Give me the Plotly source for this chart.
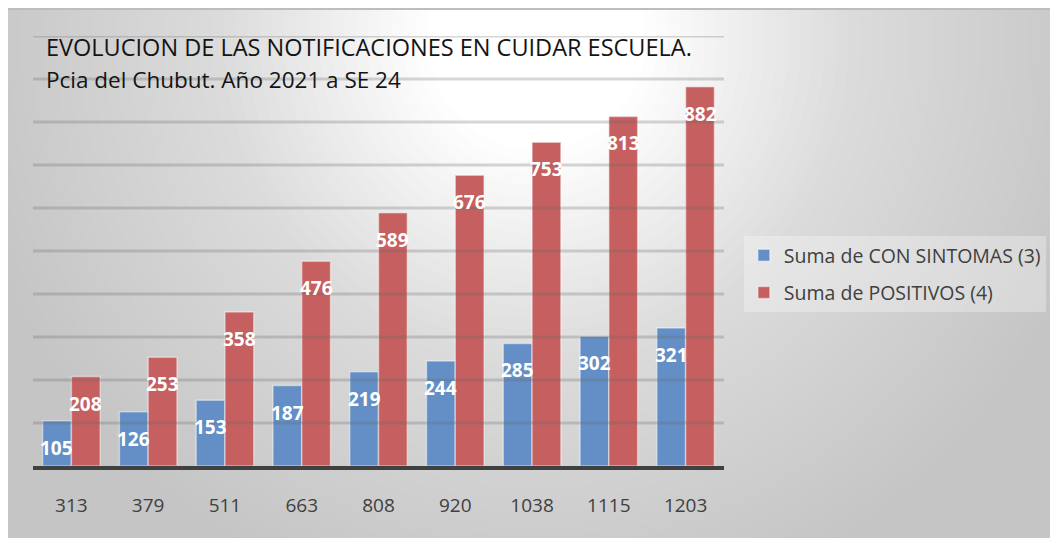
import plotly.graph_objects as go

# datos
categorias = ["313", "379", "511", "663", "808", "920", "1038", "1115", "1203"]
con_sintomas = [105, 126, 153, 187, 219, 244, 285, 302, 321]
positivos = [208, 253, 358, 476, 589, 676, 753, 813, 882]
nombres = ["Suma de CON SINTOMAS (3)", "Suma de POSITIVOS (4)"]
colores = ["#638fc6", "#c65f5f"]
grilla = list(range(100, 1001, 100))

# la pagina deja 8px de margen arriba y a la izquierda
W, H = 1058, 538
M = 8
L, R, T, B = 33, 729, 36, 466
bargap = 0.25


def px(x):
    return (x - L) / (R - L)


def py(y):
    return (B - y) / (B - T)


fig = go.Figure()

for nombre, valores, color in zip(nombres, [con_sintomas, positivos], colores):
    fig.add_trace(
        go.Bar(
            x=categorias,
            y=valores,
            name=nombre,
            legendgroup=nombre,
            marker=dict(color=color, line=dict(color="rgba(255,255,255,0.45)", width=1.5)),
        )
    )

# etiquetas de datos dentro de las barras
anotaciones = []
for s, valores in enumerate([con_sintomas, positivos]):
    offset = (1 if s else -1) * (1 - bargap) / 4
    for i, v in enumerate(valores):
        anotaciones.append(dict(
            x=i + offset, y=v, xref="x", yref="y", text=str(v),
            showarrow=False, yshift=-27,
            font=dict(family="Open Sans", size=19, color="white", weight="bold"),
        ))

anotaciones.append(dict(
    x=px(44), y=py(47), xref="paper", yref="paper", xanchor="left", yanchor="middle",
    text="EVOLUCION DE LAS NOTIFICACIONES EN CUIDAR ESCUELA.", showarrow=False,
    font=dict(family="Open Sans", size=23.5, color="#141414"),
))
anotaciones.append(dict(
    x=px(44), y=py(79), xref="paper", yref="paper", xanchor="left", yanchor="middle",
    text="Pcia del Chubut. Año 2021 a SE 24", showarrow=False,
    font=dict(family="Open Sans", size=22.5, color="#141414"),
))

# fondo degradado radial aproximado con circulos superpuestos
formas = []
n = 40
cx, cy = 540, 40
r_max, r_min = 580, 110
for j in range(1, n + 1):
    r = r_max - (j - 1) * (r_max - r_min) / (n - 1)
    formas.append(dict(
        type="circle", xref="paper", yref="paper", layer="below",
        x0=px(cx - r), x1=px(cx + r), y0=py(cy + r), y1=py(cy - r),
        fillcolor="white", opacity=1.0 / (n - j + 1), line=dict(width=0),
    ))
formas.append(dict(type="line", xref="paper", yref="paper", layer="below",
                   x0=px(M), x1=px(W), y0=py(M + 1), y1=py(M + 1),
                   line=dict(color="#bdbdbd", width=2)))

# lineas de grilla por encima de las barras
for g in grilla:
    formas.append(dict(type="line", xref="paper", yref="y", layer="above",
                       x0=0, x1=1, y0=g, y1=g,
                       line=dict(color="rgba(105,105,105,0.27)", width=3)))

fig.update_layout(
    width=W - M, height=H - M, autosize=False,
    margin=dict(l=L - M, r=W - R, t=T - M, b=H - B),
    paper_bgcolor="#c5c5c5",
    plot_bgcolor="rgba(0,0,0,0)",
    barmode="group",
    bargap=bargap,
    bargroupgap=0,
    shapes=formas,
    annotations=anotaciones,
    legend=dict(
        x=px(749), y=py(236), xanchor="left", yanchor="top",
        bgcolor="rgba(255,255,255,0.3)",
        font=dict(family="Open Sans", size=19.5, color="#404040"),
        tracegroupgap=9,
    ),
)

fig.update_xaxes(
    type="category",
    showline=True, linecolor="#404040", linewidth=4,
    ticks="outside", ticklen=19, tickcolor="rgba(0,0,0,0)",
    tickfont=dict(family="Open Sans", size=19, color="#404040"),
    showgrid=False,
)
fig.update_yaxes(range=[0, 1000], visible=False, showgrid=False)

fig.write_html("out.html")
